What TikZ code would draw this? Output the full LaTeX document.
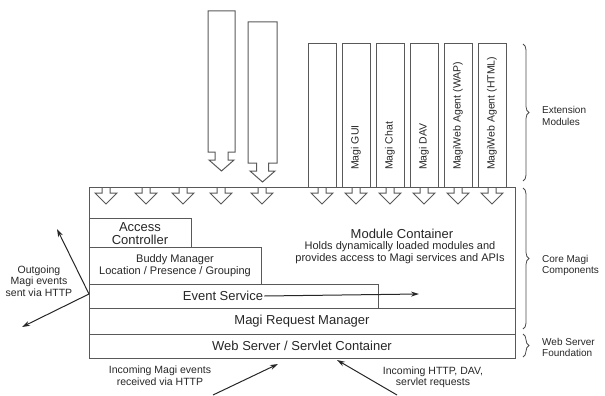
\documentclass[tikz,border=0pt]{standalone}
\usepackage{fontspec}
\setmainfont{Liberation Sans}
\usetikzlibrary{arrows.meta,decorations.pathreplacing}
\begin{document}
\begin{tikzpicture}[x=1pt,y=-1pt,
  line/.style={draw=black!65, line width=1pt},
  box/.style={line, rectangle, inner sep=0pt, outer sep=0pt, anchor=north west},
  big/.style={font=\fontsize{13}{13}\selectfont, text=black!85, align=center, inner sep=1pt},
  small/.style={font=\fontsize{10.5}{11.5}\selectfont, text=black!85, align=center, inner sep=0pt},
  side/.style={font=\fontsize{10}{11.5}\selectfont, text=black!85, align=left, anchor=west, inner sep=0pt},
  modlabel/.style={font=\fontsize{10.5}{12}\selectfont, text=black!85, rotate=90, anchor=west, inner sep=0pt},
  arr/.style={draw=black!85, line width=1pt, -{Stealth[length=8pt,width=5pt]}},
  bracestyle/.style={draw=black!70, line width=0.8pt, decorate, decoration={brace, amplitude=6pt}},
  ]
\useasboundingbox (0,0) rectangle (605,396);

% main container and layers
\node[box, minimum width=426pt, minimum height=171pt] (main) at (89,187) {};
\node[box, minimum width=102pt, minimum height=29pt] (access) at (89,218) {};
\node[box, minimum width=172pt, minimum height=37pt] (buddy) at (89,247) {};
\node[box, minimum width=289pt, minimum height=24pt] (event) at (89,284) {};
\node[box, minimum width=426pt, minimum height=26pt] (request) at (89,308) {};
\node[box, minimum width=426pt, minimum height=24pt] (web) at (89,334) {};

% texts of the layers
\node[big] (acctxt) at (140,234) {Access\\Controller};
\node[font=\fontsize{11}{11.5}\selectfont, text=black!85, align=center, inner sep=0pt] (budtxt) at (175,265.5) {Buddy Manager\\Location / Presence / Grouping};
\node[big] (evtxt) at (223,296) {Event Service};
\node[big] (reqtxt) at (302,321) {Magi Request Manager};
\node[big] (webtxt) at (302,346) {Web Server / Servlet Container};
\node[big] (modtxt) at (402,234) {Module Container};
\node[font=\fontsize{11}{12}\selectfont, text=black!85, align=center, inner sep=0pt] (modsub) at (400,253) {Holds dynamically loaded modules and\\provides access to Magi services and APIs};

% event service arrow
\coordinate (evend) at (419,294);
\draw[arr] (evtxt.east) -- (evend);

% extension module columns
\foreach \i/\x in {1/308,2/342,3/376,4/410,5/444,6/478}
  \node[box, minimum width=28pt, minimum height=143pt] (col\i) at (\x,44) {};
\node[modlabel] (l2) at (356,170) {Magi GUI};
\node[modlabel] (l3) at (390,170) {Magi Chat};
\node[modlabel] (l4) at (424,170) {Magi DAV};
\node[modlabel] (l5) at (458,170) {MagiWeb Agent (WAP)};
\node[modlabel] (l6) at (492,170) {MagiWeb Agent (HTML)};

% tall arrows
\draw[line] (208,11) -- (235,11) -- (235,152) -- (228,152) -- (228,160) -- (234,160) -- (221.5,171) -- (209,160) -- (215,160) -- (215,152) -- (208,152) -- cycle;
\draw[line] (248,22) -- (277,22) -- (277,163) -- (268.5,163) -- (268.5,171) -- (275,171) -- (262.5,182) -- (250,171) -- (256.5,171) -- (256.5,163) -- (248,163) -- cycle;

% small arrows into the container
\foreach \x in {106,146,183,221,262,322,356,390,424,458,492}
  \draw[line] (\x-4,187) -- (\x-4,193) -- (\x-11,193) -- (\x,204) -- (\x+11,193) -- (\x+4,193) -- (\x+4,187);

% braces and labels
\coordinate (b1a) at (523,44); \coordinate (b1b) at (523,181);
\coordinate (b2a) at (523,188); \coordinate (b2b) at (523,329);
\coordinate (b3a) at (523,334); \coordinate (b3b) at (523,357);
\draw[bracestyle] (b1a) -- (b1b);
\draw[bracestyle] (b2a) -- (b2b);
\draw[bracestyle] (b3a) -- (b3b);
\node[side] (s1) at (542,116) {Extension\\Modules};
\node[side] (s2) at (542,265.5) {Core Magi\\Components};
\node[side] (s3) at (542,347.5) {Web Server\\Foundation};

% outgoing events
\node[small] (outtxt) at (39,281) {Outgoing\\Magi events\\sent via HTTP};
\coordinate (og) at (89,294);
\coordinate (ogup) at (57,229);
\coordinate (ogdn) at (22,327);
\draw[arr] (og) -- (ogup);
\draw[arr] (og) -- (ogdn);

% incoming
\node[small, font=\fontsize{10.5}{12}\selectfont] (intxtA) at (160,376) {Incoming Magi events\\received via HTTP};
\node[small, font=\fontsize{10.5}{11}\selectfont] (intxtB) at (433,377) {Incoming HTTP, DAV,\\servlet requests};
\coordinate (inA) at (213,395);
\coordinate (inAend) at (278,364);
\coordinate (inB) at (397,395);
\coordinate (inBend) at (337,360);
\draw[arr] (inA) -- (inAend);
\draw[arr] (inB) -- (inBend);
\end{tikzpicture}
\end{document}
